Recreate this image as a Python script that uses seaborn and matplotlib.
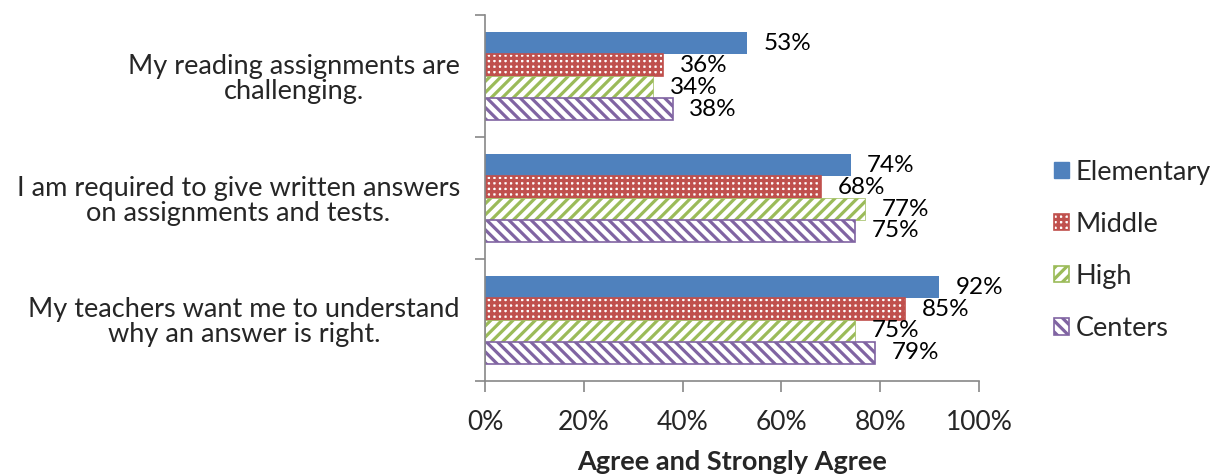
import matplotlib
matplotlib.use("Agg")
import matplotlib.pyplot as plt
import seaborn as sns
import pandas as pd
from matplotlib.patches import Patch

categories = [
    "My reading assignments are\nchallenging.",
    "I am required to give written answers\non assignments and tests.",
    "My teachers want me to understand\nwhy an answer is right.",
]
levels = ["Elementary", "Middle", "High", "Centers"]
elementary = [53, 74, 92]
middle = [36, 68, 85]
high = [34, 77, 75]
centers = [38, 75, 79]

colors = ["#4F81BD", "#C0504D", "#9BBB59", "#8064A2"]
hatches = [None, "+++", "///", "\\\\\\"]

rows = []
for lvl, vals in zip(levels, [elementary, middle, high, centers]):
    for c, v in zip(categories, vals):
        rows.append({"category": c, "level": lvl, "value": v})
df = pd.DataFrame(rows)

sns.set_theme(style="white")
FONT = ["Lato", "DejaVu Sans"]
plt.rcParams["font.family"] = FONT
plt.rcParams["hatch.linewidth"] = 2.3

fig = plt.figure(figsize=(12.17, 4.75), dpi=100)
ax = fig.add_axes([0.3985, 0.198, 0.8044 - 0.3985, 0.968 - 0.198])

sns.barplot(data=df, y="category", x="value", hue="level", hue_order=levels,
            order=categories, orient="h", width=0.72, gap=0, ax=ax,
            palette=colors, legend=False, saturation=1, errorbar=None)

fs_lab = 17.5
for i, cont in enumerate(ax.containers):
    for p in cont:
        if hatches[i] is None:
            p.set_facecolor(colors[i])
            p.set_edgecolor(colors[i])
            p.set_linewidth(0)
        else:
            p.set_facecolor("white")
            p.set_edgecolor(colors[i])
            p.set_hatch(hatches[i])
            p.set_linewidth(1.2 if i != 2 else 0.5)
    ax.bar_label(cont, labels=[f"{v:.0f}%" for v in cont.datavalues],
                 padding=12, fontsize=fs_lab, color="black")

ax.set_xlim(0, 100)
ax.set_ylim(2.5, -0.5)
ax.set_xticks([0, 20, 40, 60, 80, 100])
ax.set_xticklabels([f"{t}%" for t in [0, 20, 40, 60, 80, 100]], fontsize=19)
ax.set_yticks([0, 1, 2])
ax.set_yticklabels(categories, fontsize=19.5, multialignment="center", linespacing=1.0)
ax.set_yticks([-0.5, 0.5, 1.5, 2.5], minor=True)
ax.tick_params(axis="y", which="major", length=0, pad=18)
ax.tick_params(axis="y", which="minor", length=7, width=1.2, color="#888888", left=True)
ax.tick_params(axis="x", which="major", length=8, width=1.2, color="#888888",
               bottom=True, pad=13)
ax.set_xlabel("Agree and Strongly Agree", fontsize=19.5, fontweight="bold", labelpad=11)
ax.set_ylabel("")
sns.despine(ax=ax, top=True, right=True)
for s in ["left", "bottom"]:
    ax.spines[s].set_color("#888888")
    ax.spines[s].set_linewidth(1.2)

handles = []
for i, lvl in enumerate(levels):
    if hatches[i] is None:
        handles.append(Patch(facecolor=colors[i], edgecolor=colors[i], label=lvl))
    else:
        handles.append(Patch(facecolor="white", edgecolor=colors[i],
                             hatch=hatches[i], label=lvl, linewidth=1.2))
fig.legend(handles=handles, loc="center left", bbox_to_anchor=(0.846, 0.473),
           frameon=False, fontsize=19.5, handlelength=0.55, handleheight=0.55,
           handletextpad=0.25, labelspacing=1.0)

fig.savefig("out.png", dpi=100)
